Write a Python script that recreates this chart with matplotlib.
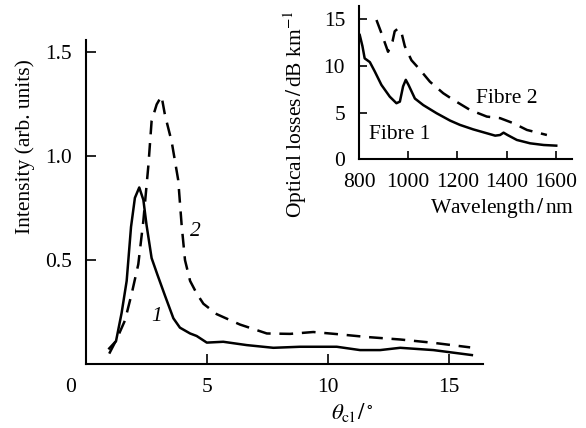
import matplotlib
matplotlib.use("Agg")
import matplotlib.pyplot as plt

plt.rcParams['font.family'] = ['Liberation Serif', 'DejaVu Serif']
plt.rcParams['mathtext.fontset'] = 'stix'

# Main chart: intensity vs cladding angle
theta1 = [0.96, 1.24, 1.47, 1.68, 1.86, 2.02, 2.2, 2.37, 2.5, 2.71, 2.95, 3.26, 3.61, 3.88,
          4.3, 4.57, 4.99, 5.67, 6.64, 7.74, 8.84, 10.36, 11.32, 12.15, 12.98, 14.35, 15.94]
int1 = [0.075, 0.11, 0.245, 0.40, 0.66, 0.80, 0.85, 0.79, 0.67, 0.51, 0.43, 0.33, 0.22, 0.175,
        0.147, 0.135, 0.103, 0.107, 0.091, 0.078, 0.083, 0.083, 0.067, 0.067, 0.078, 0.067, 0.043]
theta2 = [0.96, 1.27, 1.61, 1.89, 2.16, 2.37, 2.58, 2.71, 2.92, 3.12, 3.26, 3.54, 3.81, 3.95,
          4.09, 4.3, 4.57, 4.85, 5.4, 6.36, 7.47, 8.43, 9.39, 10.36, 11.6, 12.98, 14.35, 15.87]
int2 = [0.05, 0.12, 0.21, 0.34, 0.48, 0.69, 0.96, 1.17, 1.25, 1.29, 1.20, 1.07, 0.885, 0.67,
        0.50, 0.40, 0.34, 0.29, 0.24, 0.19, 0.147, 0.145, 0.154, 0.144, 0.13, 0.118, 0.102, 0.08]
main_xticks = [5, 10, 15]
main_yticks = [0.5, 1.0, 1.5]

# Inset: optical losses vs wavelength
wl1 = [803, 814, 823, 844, 864, 891, 925, 952, 966, 979, 990, 1001, 1027, 1061, 1115, 1170,
       1210, 1264, 1353, 1373, 1387, 1403, 1441, 1495, 1550, 1601]
loss1 = [13.3, 12.1, 10.8, 10.4, 9.4, 7.96, 6.7, 6.0, 6.17, 7.8, 8.5, 7.96, 6.5, 5.8, 4.93, 4.14,
         3.68, 3.2, 2.53, 2.6, 2.85, 2.6, 2.07, 1.71, 1.53, 1.46]
wl2 = [871, 891, 918, 936, 945, 959, 973, 986, 1013, 1047, 1088, 1142, 1183, 1251, 1319, 1373,
       1427, 1482, 1563]
loss2 = [14.9, 13.5, 11.5, 12.6, 13.7, 14.0, 13.5, 12.1, 10.6, 9.6, 8.3, 7.07, 6.36, 5.28, 4.57,
         4.4, 3.86, 3.14, 2.6]
inset_xticks = [800, 1000, 1200, 1400, 1600]
inset_yticks = [0, 5, 10, 15]

W, H = 586, 428
fig = plt.figure(figsize=(W / 100, H / 100), dpi=100)

def box(l, t, r, b):
    return [l / W, 1 - b / H, (r - l) / W, (b - t) / H]

FS = 15.5
ax = fig.add_axes(box(86, 40, 483, 364))
ax.plot(theta1, int1, color='black', lw=1.8, solid_joinstyle='round')
ax.plot(theta2, int2, color='black', lw=1.8, dashes=(5.5, 3.5))
ax.set_xlim(0, 16.4)
ax.set_ylim(0, 1.56)
ax.set_xticks(main_xticks)
ax.set_xticklabels([str(v) for v in main_xticks])
ax.set_yticks(main_yticks)
ax.set_yticklabels(['%.1f' % v for v in main_yticks])
for s in ['top', 'right']:
    ax.spines[s].set_visible(False)
for s in ['left', 'bottom']:
    ax.spines[s].set_linewidth(1.5)
ax.tick_params(direction='in', length=7, width=1.2, labelsize=FS, pad=10)
ax.text(2.92, 0.23, '1', style='italic', fontsize=FS, ha='center', va='center')
ax.text(4.5, 0.636, '2', style='italic', fontsize=FS, ha='center', va='center')
fig.text(71 / W, 1 - 387 / H, '0', fontsize=FS, ha='center', va='center')
fig.text(25 / W, 1 - 147 / H, 'Intensity (arb. units)', rotation=90, fontsize=FS,
         ha='center', va='center')
fig.text(352 / W, 1 - 412 / H, r'$\theta_{\mathrm{cl}}\,/\,^{\circ}$', fontsize=FS + 1,
         ha='center', va='center')

ins = fig.add_axes(box(359, 6, 572, 159.3))
ins.plot(wl1, loss1, color='black', lw=1.8)
ins.plot(wl2, loss2, color='black', lw=1.8, dashes=(5.5, 3.5))
ins.set_xlim(800, 1665)
ins.set_ylim(0, 16.4)
ins.set_xticks(inset_xticks)
ins.set_yticks(inset_yticks)
for s in ['top', 'right']:
    ins.spines[s].set_visible(False)
for s in ['left', 'bottom']:
    ins.spines[s].set_linewidth(1.5)
ins.tick_params(direction='in', length=6, width=1.2, labelsize=FS, pad=10)
ins.text(966, 2.6, 'Fibre 1', fontsize=FS, ha='center', va='center')
ins.text(1400, 6.5, 'Fibre 2', fontsize=FS, ha='center', va='center')
fig.text(295 / W, 1 - 114 / H, r'Optical losses$\,/\,$dB km$^{-1}$', rotation=90, fontsize=FS,
         ha='center', va='center')
fig.text(502 / W, 1 - 208 / H, r'Wavelength$\,/\,$nm', fontsize=FS, ha='center', va='center')

fig.savefig('out.png', dpi=100)
